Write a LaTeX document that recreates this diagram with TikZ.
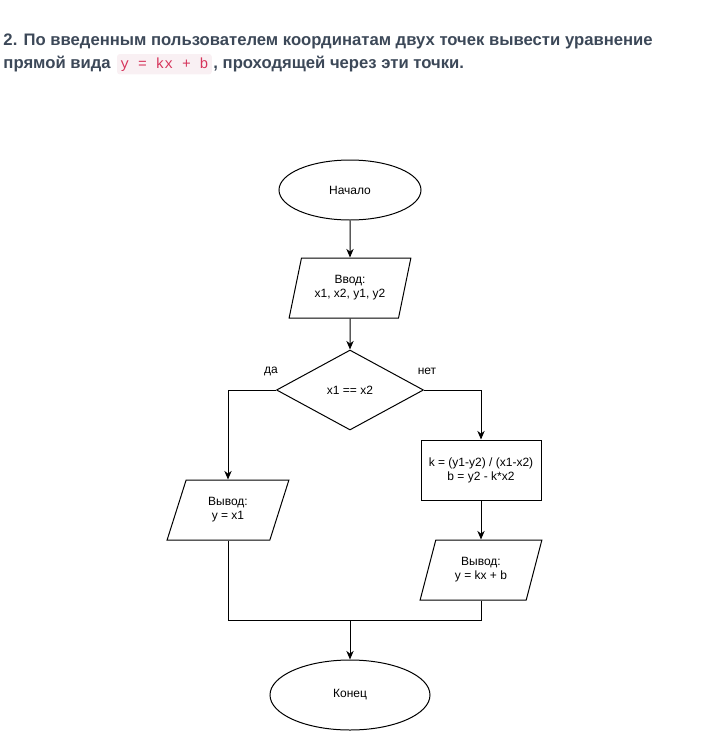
\documentclass[tikz,border=0pt]{standalone}
\usepackage{fontspec}
\setmainfont{Liberation Sans}
\newfontfamily\codefont{Liberation Mono}
\usetikzlibrary{shapes.geometric,arrows.meta}
\definecolor{titlegray}{RGB}{60,72,88}
\definecolor{codered}{RGB}{214,51,90}
\definecolor{codebg}{RGB}{249,240,243}
\tikzset{every picture/.style={line width=0.75pt}}
\tikzset{
  titletext/.style={inner sep=0pt, anchor=base west, text=titlegray, font=\fontsize{12.5}{14}\selectfont\bfseries},
  codetext/.style={inner xsep=2.5pt, inner ysep=2.5pt, anchor=base west, rounded corners=2pt, fill=codebg, text=codered, font=\codefont\fontsize{11}{13}\selectfont},
  blocktext/.style={font=\fontsize{9}{10.5}\selectfont, align=center},
  term/.style={blocktext, draw, ellipse, inner sep=0pt},
  io/.style={blocktext, draw, trapezium, trapezium left angle=70, trapezium right angle=110, trapezium stretches=true, minimum width=91.5pt, minimum height=45pt, inner sep=0pt},
  proc/.style={blocktext, draw, rectangle, minimum width=90pt, minimum height=45pt, inner sep=0pt},
  test/.style={blocktext, draw, diamond, minimum width=110.25pt, minimum height=60pt, inner sep=0pt},
  flow/.style={-{Stealth[length=6.5pt,width=5.5pt]}}
}

\begin{document}
\begin{tikzpicture}[x=0.75pt,y=0.75pt,yscale=-1,xscale=1]
\useasboundingbox (0,0) rectangle (722,732);

% Text Node
\node (title1) [titletext] at (3,45) {2. По введенным пользователем координатам двух точек вывести уравнение};
% Text Node
\node (title2) [titletext] at (3,68) {прямой вида};
\node (code) [codetext] at ([xshift=4pt]title2.base east) {y = kx + b};
\node (title3) [titletext] at ([xshift=0.5pt]code.base east) {, проходящей через эти точки.};

%Shape: Ellipse
\node (start) [term, minimum width=106.5pt, minimum height=45pt] at (350,190) {Начало};
%Shape: Parallelogram
\node (input) [io] at (350,288) {Ввод:\\x1, x2, y1, y2};
%Shape: Diamond
\node (cond) [test] at (350,390) {x1 == x2};
%Shape: Parallelogram
\node (outx) [io] at (228,510) {Вывод:\\y = x1};
%Shape: Rectangle
\node (calc) [proc] at (481,470) {k = (y1-y2) / (x1-x2)\\b = y2 - k*x2};
%Shape: Parallelogram
\node (outk) [io] at (481,570) {Вывод:\\y = kx + b};
%Shape: Ellipse
\node (end) [term, minimum width=120pt, minimum height=52.5pt] at (350,695) {Конец};
\coordinate (merge) at (350,620);

% Text Node
\node (yes) [blocktext] at (271,371) {да};
% Text Node
\node (no) [blocktext] at (427,371) {нет};

%Straight Lines
\draw [flow] (start) -- (input);
\draw [flow] (input) -- (cond);
\draw [flow] (cond.west) -| (outx.north);
\draw [flow] (cond.east) -| (calc.north);
\draw [flow] (calc) -- (outk);
\draw (outx.south) |- (merge);
\draw (outk.south) |- (merge);
\draw [flow] (merge) -- (end);

\end{tikzpicture}
\end{document}
